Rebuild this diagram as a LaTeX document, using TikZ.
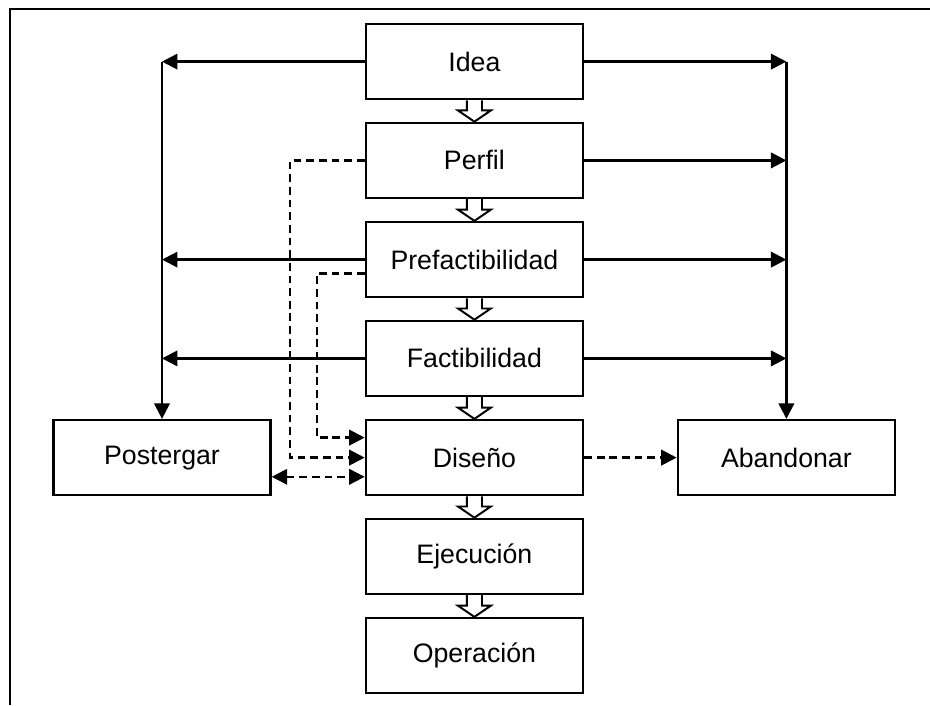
\documentclass[tikz,border=0pt]{standalone}
\usepackage{fontspec}
\setmainfont{Liberation Sans}
\usetikzlibrary{arrows.meta}
\usetikzlibrary{calc}
\usetikzlibrary{positioning}

\tikzset{
	>={Triangle[length=11pt,width=11pt]},
	etapa/.style={draw, line width=1.6pt, minimum width=5.43cm, minimum height=1.88cm, inner sep=0pt, font=\fontsize{19}{22}\selectfont},
	linie/.style={line width=1.6pt},
	gestr/.style={line width=1.6pt, dash pattern=on 5.5pt off 3.5pt},
	hohl/.style={line width=1.4pt, fill=white, line join=miter}
}

\begin{document}
\begin{tikzpicture}
		\useasboundingbox (0,0) rectangle (23.25,-17.625);
		\draw[line width=2pt] (23.25,-0.225) -- (0.25,-0.225) -- (0.25,-17.625);
		\path 	(11.86,-1.54)	node[etapa] (idea) 	{Idea}
			(11.86,-4.01)	node[etapa] (perfil)	{Perfil}
			(11.86,-6.49)	node[etapa] (pref)	{Prefactibilidad}
			(11.86,-8.96)	node[etapa] (fact)	{Factibilidad}
			(11.86,-11.44)	node[etapa] (dis)	{Diseño}
			(11.86,-13.91)	node[etapa] (ejec)	{Ejecución}
			(11.86,-16.39)	node[etapa] (oper)	{Operación}
			(4.05,-11.44)	node[etapa] (post)	{Postergar}
			(19.66,-11.44)	node[etapa] (aban)	{Abandonar};
		% hacia la izquierda
		\draw[linie,->] (idea) to (idea-|post);
		\draw[linie,->] (pref) to (pref-|post);
		\draw[linie,->] (fact) to (fact-|post);
		\draw[linie,->] (idea-|post) to (post.north);
		% hacia la derecha
		\draw[linie,->] (idea) to (idea-|aban);
		\draw[linie,->] (perfil) to (perfil-|aban);
		\draw[linie,->] (pref) to (pref-|aban);
		\draw[linie,->] (fact) to (fact-|aban);
		\draw[linie,->] (idea-|aban) to (aban.north);
		% lineas discontinuas
		\draw[gestr,->] (perfil.west) -- (7.25,0|-perfil.west) |- (dis.west);
		\draw[gestr,->] ($(pref.west)+(0,-0.35)$) -- ++(-1.2,0) |- ($(dis.west)+(0,0.5)$);
		\draw[gestr,<->] ($(post.east)+(0,-0.48)$) -- ($(dis.west)+(0,-0.48)$);
		\draw[gestr,->] (dis) -- (aban);
		% flechas huecas
		\foreach \a/\b in {idea/perfil, perfil/pref, pref/fact, fact/dis, dis/ejec, ejec/oper}
			\draw[hohl] ($(\a.south)+(-0.19,0)$) -- ($(\b.north)+(-0.19,0.28)$) -- ($(\b.north)+(-0.41,0.28)$) -- (\b.north)
				-- ($(\b.north)+(0.41,0.28)$) -- ($(\b.north)+(0.19,0.28)$) -- ($(\a.south)+(0.19,0)$);
	\end{tikzpicture}
\end{document}
